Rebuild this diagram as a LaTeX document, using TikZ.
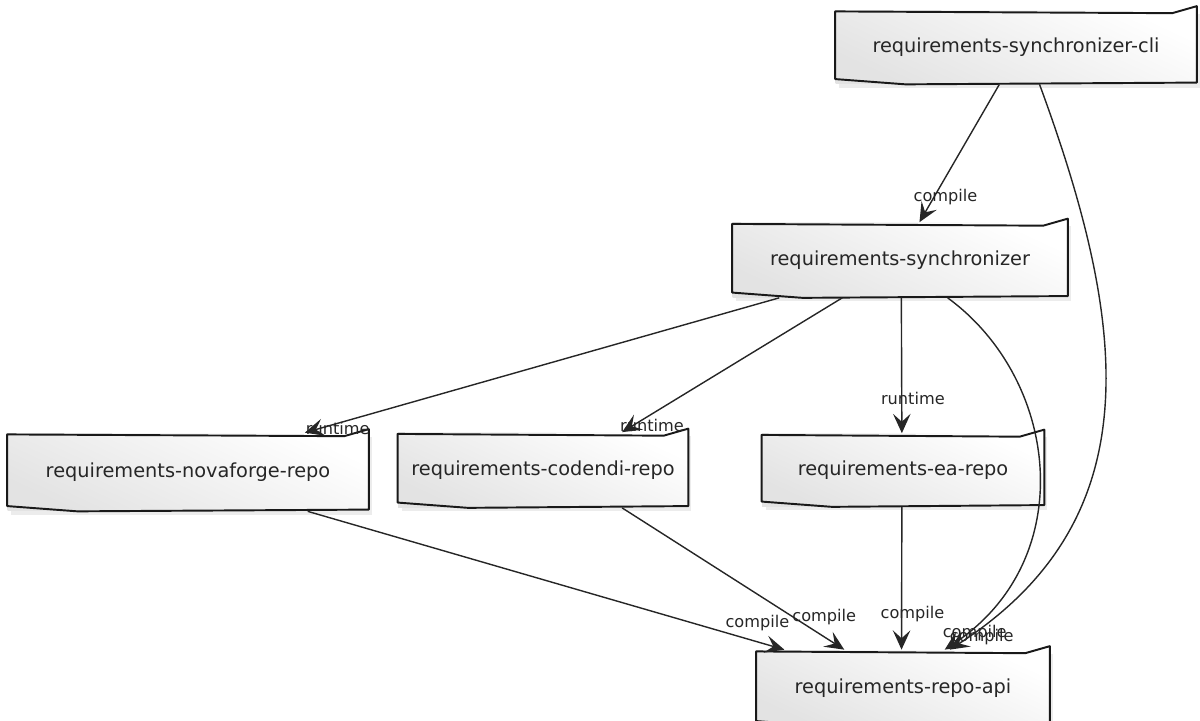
\documentclass[tikz,border=0pt]{standalone}
\usepackage{fontspec}
\setmainfont{DejaVu Sans}
\usetikzlibrary{arrows.meta,calc,shadows}

% hand-drawn looking outline around a module node
\newcommand{\moduleframe}[1]{%
  \draw[frame] ([yshift=-1pt]#1.north west) -- ([xshift=-14pt,yshift=-2pt]#1.north east)
    -- ([yshift=2pt]#1.north east) -- ([yshift=1pt]#1.south east) -- ([xshift=40pt]#1.south west)
    -- ([yshift=3pt]#1.south west) -- cycle;}

\begin{document}
\begin{tikzpicture}[x=0.02cm,y=-0.02cm,
module/.style={rectangle,draw=none,top color=white,bottom color=black!11,shading angle=-25,
  minimum height=1.5cm,inner sep=4pt,font=\fontsize{11}{13}\selectfont,text=black!85,
  drop shadow={shadow xshift=2pt,shadow yshift=-2pt,opacity=0.15}},
frame/.style={line width=1.1pt,black!90,line join=round},
dep/.style={line width=0.8pt,black!85,-{Stealth[length=11pt,width=10pt,inset=4.5pt]}},
lbl/.style={font=\fontsize{9.2}{11}\selectfont,text=black!85,inner sep=0pt}]
\useasboundingbox (0,0) rectangle (1200,720);

\node[module,minimum width=7.22cm,minimum height=1.48cm] (cli) at (1016,47) {requirements-synchronizer-cli};
\node[module,minimum width=6.7cm] (sync) at (900,260) {requirements-synchronizer};
\node[module,minimum width=7.22cm,minimum height=1.56cm] (nova) at (188,472) {requirements-novaforge-repo};
\node[module,minimum width=5.8cm] (codendi) at (543,470) {requirements-codendi-repo};
\node[module,minimum width=5.64cm,minimum height=1.46cm] (ea) at (903,470) {requirements-ea-repo};
\node[module,minimum width=5.86cm,minimum height=1.52cm] (api) at (903,688) {requirements-repo-api};
\moduleframe{cli}
\moduleframe{sync}
\moduleframe{nova}
\moduleframe{codendi}
\moduleframe{ea}
\moduleframe{api}

% dependencies of the cli
\draw[dep] ($(cli.south west)!.454!(cli.south east)$) -- ($(sync.north west)!.558!(sync.north east)$)
  node[lbl,at end,shift={(26,-25)}] {compile};
\draw[dep] ($(cli.south west)!.565!(cli.south east)$) .. controls (1130,330) and (1150,520) .. ($(api.north west)!.659!(api.north east)$)
  node[lbl,at end,shift={(32,-13)}] {compile};

% dependencies of the synchronizer
\draw[dep] ($(sync.south west)!.14!(sync.south east)$) -- ($(nova.north west)!.823!(nova.north east)$)
  node[lbl,at end,shift={(33,-4)}] {runtime};
\draw[dep] ($(sync.south west)!.328!(sync.south east)$) -- ($(codendi.north west)!.772!(codendi.north east)$)
  node[lbl,at end,shift={(30,-7)}] {runtime};
\draw[dep] ($(sync.south west)!.504!(sync.south east)$) -- ($(ea.north west)!.496!(ea.north east)$)
  node[lbl,at end,shift={(11,-35)}] {runtime};
\draw[dep] ($(sync.south west)!.642!(sync.south east)$) .. controls (1060,380) and (1080,560) .. ($(api.north west)!.642!(api.north east)$)
  node[lbl,at end,shift={(30,-17)}] {compile};

% repositories on the api
\draw[dep] ($(nova.south west)!.831!(nova.south east)$) -- ($(api.north west)!.096!(api.north east)$)
  node[lbl,at end,shift={(-27,-27)}] {compile};
\draw[dep] ($(codendi.south west)!.772!(codendi.south east)$) -- ($(api.north west)!.30!(api.north east)$)
  node[lbl,at end,shift={(-20,-33)}] {compile};
\draw[dep] ($(ea.south west)!.496!(ea.south east)$) -- ($(api.north west)!.495!(api.north east)$)
  node[lbl,at end,shift={(11,-36)}] {compile};
\end{tikzpicture}
\end{document}
